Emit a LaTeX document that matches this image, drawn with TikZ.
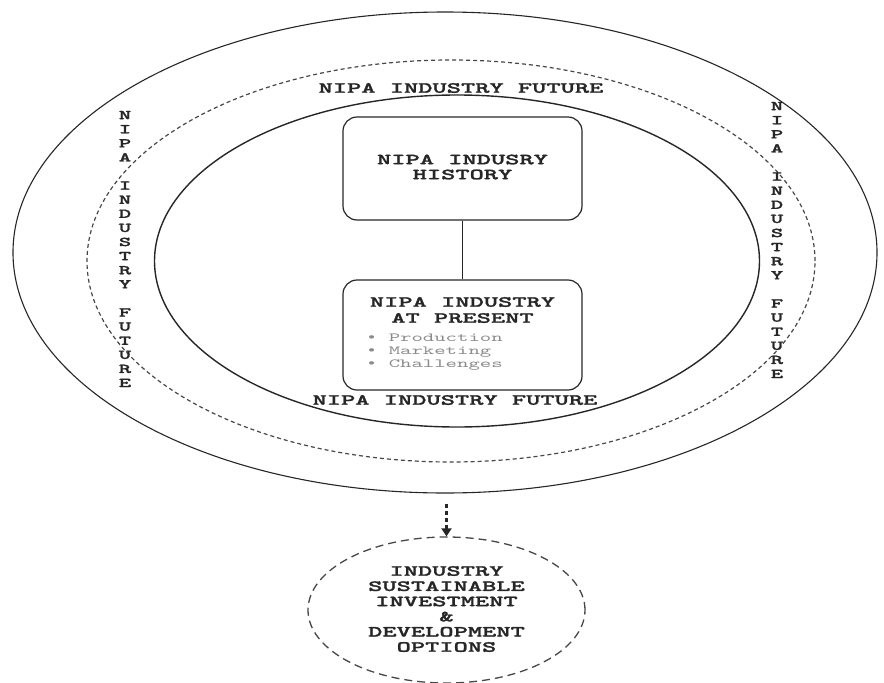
\documentclass[tikz,border=0pt]{standalone}
\usepackage{fontspec}
\usetikzlibrary{shapes.geometric,arrows.meta}
\newfontfamily\courw{lmmono10-regular.otf}[FakeStretch=1.75, BoldFont=lmmonolt10-bold.otf, BoldFeatures={FakeBold=1.6}]
\newfontfamily\bulfont{Liberation Mono}[FakeStretch=1.5]
\definecolor{ink}{HTML}{262626}
\definecolor{soft}{HTML}{8A8A8A}
\begin{document}
\begin{tikzpicture}[x=1pt,y=-1pt,
  ring/.style={ellipse, draw=ink, line width=1.1pt, inner sep=0pt, fill=none},
  dashring/.style={ellipse, draw=ink!85, line width=1.2pt, dash pattern=on 4pt off 3pt, inner sep=0pt},
  rbox/.style={draw=ink, line width=1.2pt, rounded corners=14pt, inner sep=0pt},
  ttl/.style={text=ink, font=\courw\bfseries\fontsize{15.5}{15}\selectfont, align=center, inner sep=0pt},
  vert/.style={text=ink, font=\courw\bfseries\fontsize{13.5}{14.1}\selectfont, align=center, inner sep=0pt},
  small/.style={text=soft, font=\courw\fontsize{12.4}{12.7}\selectfont, align=left, inner sep=0pt}]
\useasboundingbox (0,0) rectangle (884,683);
\node[ring, minimum width=864pt, minimum height=481pt] (outer) at (445,252.5) {};
\node[dashring, minimum width=728pt, minimum height=402pt] (mid) at (451,261) {};
\node[ring, line width=1.4pt, minimum width=605pt, minimum height=332pt] (inner) at (457,261) {};
\node[rbox, minimum width=239pt, minimum height=103pt] (hist) at (462.5,168.5) {};
\node[ttl] (histtxt) at (462.5,167) {NIPA INDUSRY\\HISTORY};
\node[rbox, minimum width=239pt, minimum height=110pt] (pres) at (462.5,335) {};
\draw[ink, line width=1.5pt] (hist.south) -- (pres.north);
\node[ttl, font=\courw\bfseries\fontsize{15.5}{16}\selectfont] (prestxt) at (462.5,310) {NIPA INDUSTRY\\AT PRESENT};
\node[small, anchor=west] (bul) at (366,352) {{\bulfont •} Production\\{\bulfont •} Marketing\\{\bulfont •} Challenges};
\node[ttl] (ftop) at (461,88) {NIPA INDUSTRY FUTURE};
\node[ttl] (fbot) at (455,400) {NIPA INDUSTRY FUTURE};
\node[vert] (fleft) at (125,249) {N\\I\\P\\A\\\mbox{}\\I\\N\\D\\U\\S\\T\\R\\Y\\\mbox{}\\F\\U\\T\\U\\R\\E};
\node[vert] (fright) at (777,240) {N\\I\\P\\A\\\mbox{}\\I\\N\\D\\U\\S\\T\\R\\Y\\\mbox{}\\F\\U\\T\\U\\R\\E};
\node[ellipse, draw=ink!85, line width=1.3pt, dash pattern=on 8pt off 5pt, minimum width=277pt, minimum height=146pt, inner sep=0pt] (opt) at (446.5,610) {};
\node[ttl, font=\courw\bfseries\fontsize{15.5}{15.2}\selectfont] (opttxt) at (446.5,609) {INDUSTRY\\SUSTAINABLE\\INVESTMENT\\\&\\DEVELOPMENT\\OPTIONS};
\draw[ink, line width=2.6pt, dash pattern=on 4pt off 3pt, shorten <=10pt, -{Triangle[length=8pt,width=10pt]}] (outer.south -| opt.north) -- (opt.north);
\end{tikzpicture}
\end{document}
